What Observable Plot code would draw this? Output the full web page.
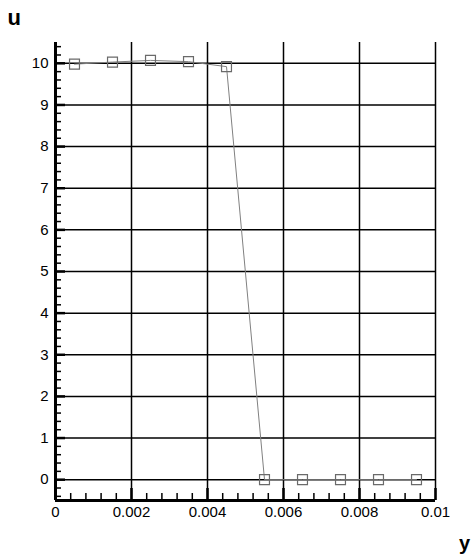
<!DOCTYPE html>
<html>
<head>
<meta charset="utf-8">
<script src="https://cdn.jsdelivr.net/npm/d3@7"></script>
<script src="https://cdn.jsdelivr.net/npm/@observablehq/plot@0.6"></script>
<style>
  html, body { margin: 0; padding: 0; background: #fff; }
  #chart svg { display: block; }
</style>
</head>
<body>
<div id="chart"></div>
<script>
// Data
const yPos = [0.0005, 0.0015, 0.0025, 0.0035, 0.0045, 0.0055, 0.0065, 0.0075, 0.0085, 0.0095];
const uVals = [9.98, 10.03, 10.07, 10.04, 9.92, 0, 0, 0, 0, 0];
// Axis ticks
const xTicks = [0, 0.002, 0.004, 0.006, 0.008, 0.01];
const yTicks = [0, 1, 2, 3, 4, 5, 6, 7, 8, 9, 10];
const xGridLines = [0.002, 0.004, 0.006, 0.008, 0.01];
const xMinor = d3.range(0, 0.01001, 0.0004).filter((_, i) => i % 5 !== 0);
const yMinor = d3.range(-0.4, 10.5, 0.2).map(v => +v.toFixed(1)).filter(v => Math.abs(v - Math.round(v)) > 1e-6);
const xLabel = "y";
const yLabel = "u";

const data = yPos.map((x, i) => ({x, u: uVals[i]}));

const W = 473, H = 559;
const mL = 55, mR = 38, mT = 42, mB = 59;
const fw = W - mL - mR, fh = H - mT - mB;
const narrow = "'Liberation Sans Narrow', 'Arial Narrow', Arial, sans-serif";

const chart = Plot.plot({
  width: W,
  height: H,
  marginLeft: mL,
  marginRight: mR,
  marginTop: mT,
  marginBottom: mB,
  style: {fontFamily: narrow, fontSize: "15px", background: "#fff", color: "#000"},
  x: {domain: [0, 0.01]},
  y: {domain: [-0.5, 10.5]},
  marks: [
    // horizontal grid
    Plot.ruleY(yTicks, {stroke: "#000", strokeWidth: 1.5}),
    // vertical grid
    Plot.ruleX(xGridLines, {stroke: "#000", strokeWidth: 1.5}),
    // minor ticks
    Plot.tickX(xMinor, {x: d => d, stroke: "#000", strokeWidth: 1.5, insetTop: fh - 7}),
    Plot.tickX(xTicks, {x: d => d, stroke: "#000", strokeWidth: 2.5, insetTop: fh - 12}),
    Plot.tickY(yMinor, {y: d => d, stroke: "#000", strokeWidth: 1.5, insetRight: fw - 6}),
    Plot.tickY(yTicks, {y: d => d, stroke: "#000", strokeWidth: 2.5, insetRight: fw - 10}),
    // axis lines
    Plot.ruleX([0], {stroke: "#000", strokeWidth: 3}),
    Plot.ruleY([-0.5], {stroke: "#000", strokeWidth: 3}),
    // data
    Plot.line(data, {x: "x", y: "u", stroke: "#808080", strokeWidth: 1}),
    Plot.dot(data, {x: "x", y: "u", symbol: "square", r: 5.6, stroke: "#6a6a6a", strokeWidth: 1.2, fill: "none"}),
    // axes labels
    Plot.axisX(xTicks, {tickSize: 0, tickPadding: 6, tickFormat: d => String(d), fontSize: 15, fontFamily: narrow, label: null}),
    Plot.axisY(yTicks, {tickSize: 0, tickPadding: 7, tickFormat: d => String(d), fontSize: 15, fontFamily: narrow, label: null}),
    Plot.text([yLabel], {frameAnchor: "top-left", text: d => d, dx: -48, dy: -33, fontSize: 22, fontWeight: "bold", fontFamily: "Arial, sans-serif", textAnchor: "start", lineAnchor: "top"}),
    Plot.text([xLabel], {frameAnchor: "bottom-right", text: d => d, dx: 29, dy: 35, fontSize: 20, fontWeight: "bold", fontFamily: narrow, textAnchor: "middle", lineAnchor: "top"})
  ]
});
document.getElementById("chart").appendChild(chart);
</script>
</body>
</html>
